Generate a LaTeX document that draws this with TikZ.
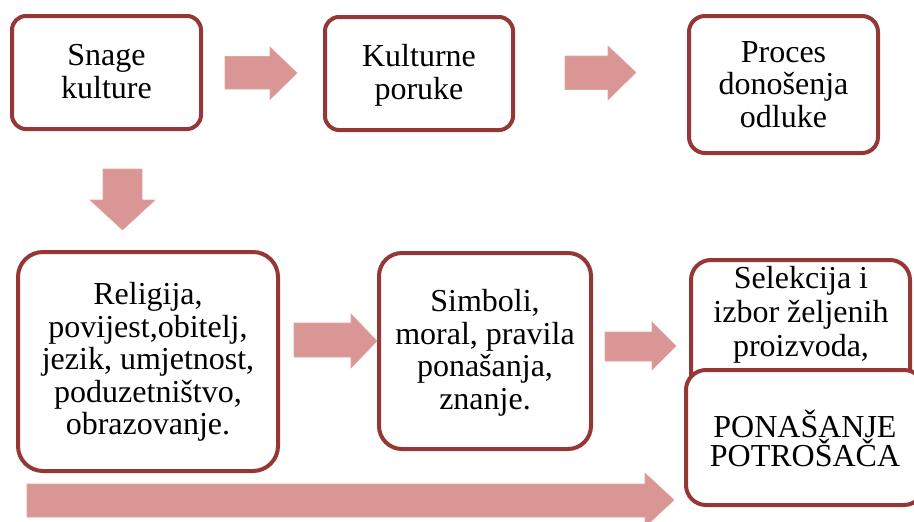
\documentclass[tikz,border=0pt]{standalone}
\usepackage{fontspec}
\setmainfont{Liberation Serif}
\newfontfamily\boxserif{Liberation Serif}
\definecolor{boxred}{HTML}{953735}
\definecolor{arrowpink}{HTML}{D99694}
\begin{document}
\begin{tikzpicture}[x=1pt,y=-1pt,
  box/.style={draw=boxred, line width=4pt, fill=white, inner sep=0pt},
  lbl/.style={align=center, inner sep=0pt, text=black,
    font=\boxserif\fontsize{32}{32.5}\selectfont},
  blockarrow/.style={fill=arrowpink, draw=arrowpink!85!white, line width=0.6pt}]
\useasboundingbox (0,0) rectangle (914,522);

% boxes
\node[box, rounded corners=14pt, minimum width=189pt, minimum height=113pt] (snage) at (106.5,72.5) {};
\node[lbl, yshift=1pt] (snagetext) at (snage.center) {Snage\\kulture};
\node[box, rounded corners=14pt, minimum width=188pt, minimum height=113pt] (poruke) at (419,73.5) {};
\node[lbl, yshift=-2pt] (poruketext) at (poruke.center) {Kulturne\\poruke};
\node[box, rounded corners=16pt, minimum width=189pt, minimum height=137pt] (proces) at (783.5,84.5) {};
\node[lbl] (procestext) at (proces.center) {Proces\\donošenja\\odluke};
\node[box, rounded corners=25pt, minimum width=260pt, minimum height=219pt] (religija) at (148,361.5) {};
\node[lbl, yshift=-0.5pt] (religijatext) at (religija.center) {Religija,\\povijest,obitelj,\\jezik, umjetnost,\\poduzetništvo,\\obrazovanje.};
\node[box, rounded corners=23pt, minimum width=212pt, minimum height=196pt] (simboli) at (485,351) {};
\node[lbl, yshift=-2pt] (simbolitext) at (simboli.center) {Simboli,\\moral, pravila\\ponašanja,\\znanje.};
\node[box, rounded corners=20pt, minimum width=219pt, minimum height=150pt] (selekcija) at (800.5,335) {};
\node[lbl, anchor=north, font=\boxserif\fontsize{32}{34}\selectfont] (selekcijatext) at (801,266) {Selekcija i\\izbor željenih\\proizvoda,};
\node[box, rounded corners=20pt, minimum width=238pt, minimum height=135pt] (ponasanje) at (805,437.5) {};
\node[lbl, font=\boxserif\fontsize{32}{27.5}\selectfont, yshift=-1pt] (ponasanjetext) at (ponasanje.center) {PONAŠANJE\\POTROŠAČA};

% block arrows
\fill[blockarrow] (225,56.5) -- (270,56.5) -- (270,47) -- (297,73) -- (270,99.5) -- (270,89) -- (225,89) -- cycle;
\fill[blockarrow] (565,56) -- (608,56) -- (608,46) -- (636,72.5) -- (608,100) -- (608,89.5) -- (565,89.5) -- cycle;
\fill[blockarrow] (103,169) -- (142,169) -- (142,200) -- (155,200) -- (122.5,230) -- (90,200) -- (103,200) -- cycle;
\fill[blockarrow] (294,323) -- (351,323) -- (351,314) -- (377,341) -- (351,368) -- (351,357) -- (294,357) -- cycle;
\fill[blockarrow] (605,332) -- (652,332) -- (652,322) -- (676,346) -- (652,370) -- (652,361) -- (605,361) -- cycle;
\fill[blockarrow] (27,484) -- (645,484) -- (645,473) -- (674,500) -- (645,527) -- (645,517) -- (27,517) -- cycle;
\end{tikzpicture}
\end{document}
